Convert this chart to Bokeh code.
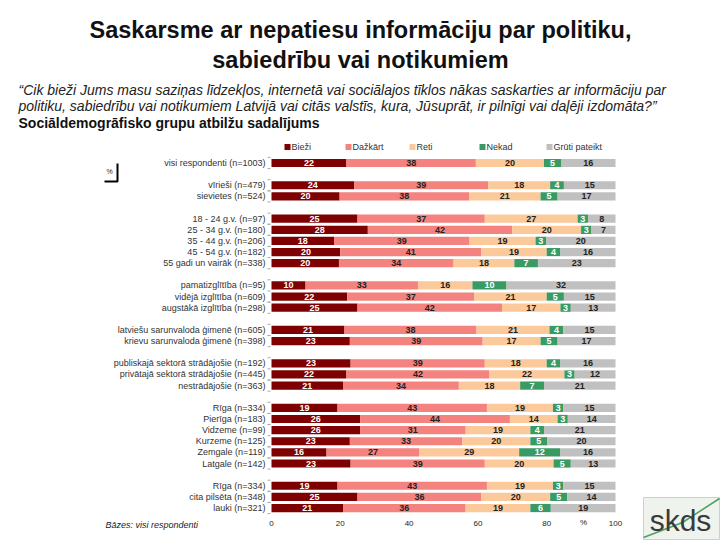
import numpy as np
from bokeh.plotting import figure
from bokeh.models import Range1d, ColumnDataSource
from bokeh.core.properties import value
from bokeh.embed import file_html
from bokeh.resources import INLINE

title_lines = ["Saskarsme ar nepatiesu informāciju par politiku,",
               "sabiedrību vai notikumiem"]
question_lines = ["“Cik bieži Jums masu saziņas līdzekļos, internetā vai sociālajos tīklos nākas saskarties ar informāciju par",
                  "politiku, sabiedrību vai notikumiem Latvijā vai citās valstīs, kura, Jūsuprāt, ir pilnīgi vai daļēji izdomāta?”"]
subtitle = "Sociāldemogrāfisko grupu atbilžu sadalījums"
base_note = "Bāzes: visi respondenti"

series_names = ["Bieži", "Dažkārt", "Reti", "Nekad", "Grūti pateikt"]
series_colors = ["#7f0000", "#f4827e", "#fbc99a", "#3a9a64", "#c0c0c0"]
label_colors = ["white", "#222222", "#222222", "white", "#222222"]

categories = [
    "visi respondenti (n=1003)",
    "vīrieši (n=479)", "sievietes (n=524)",
    "18 - 24 g.v. (n=97)", "25 - 34 g.v. (n=180)", "35 - 44 g.v. (n=206)",
    "45 - 54 g.v. (n=182)", "55 gadi un vairāk (n=338)",
    "pamatizglītība (n=95)", "vidējā izglītība (n=609)", "augstākā izglītība (n=298)",
    "latviešu sarunvaloda ģimenē (n=605)", "krievu sarunvaloda ģimenē (n=398)",
    "publiskajā sektorā strādājošie (n=192)", "privātajā sektorā strādājošie (n=445)",
    "nestrādājošie (n=363)",
    "Rīga (n=334)", "Pierīga (n=183)", "Vidzeme (n=99)", "Kurzeme (n=125)",
    "Zemgale (n=119)", "Latgale (n=142)",
    "Rīga (n=334)", "cita pilsēta (n=348)", "lauki (n=321)",
]
group_sizes = [1, 2, 5, 3, 2, 3, 6, 3]

biezi   = [22, 24, 20, 25, 28, 18, 20, 20, 10, 22, 25, 21, 23, 23, 22, 21, 19, 26, 26, 23, 16, 23, 19, 25, 21]
dazkart = [38, 39, 38, 37, 42, 39, 41, 34, 33, 37, 42, 38, 39, 39, 42, 34, 43, 44, 31, 33, 27, 39, 43, 36, 36]
reti    = [20, 18, 21, 27, 20, 19, 19, 18, 16, 21, 17, 21, 17, 18, 22, 18, 19, 14, 19, 20, 29, 20, 19, 20, 19]
nekad   = [5, 4, 5, 3, 3, 3, 4, 7, 10, 5, 3, 4, 5, 4, 3, 7, 3, 3, 4, 5, 12, 5, 3, 5, 6]
gruti   = [16, 15, 17, 8, 7, 20, 16, 23, 32, 15, 13, 15, 17, 16, 12, 21, 15, 14, 21, 20, 16, 13, 15, 14, 19]

x_ticks = [0, 20, 40, 60, 80, 100]

# ---- layout helpers (reference pixel space) ----
X0, PXU = 271.0, 3.44          # px of 0 % and px per %
def X(px):
    return (px - X0) / PXU

W, H = 720, 540
p = figure(width=W, height=H, output_backend="svg", toolbar_location=None,
           x_range=Range1d(X(0), X(W)), y_range=Range1d(H, 0),
           min_border=0, background_fill_color="white", border_fill_color="white")
p.axis.visible = False
p.grid.visible = False
p.outline_line_color = None

# row positions with gaps between groups
slots = []
s = 0
for g in group_sizes:
    for _ in range(g):
        slots.append(s)
        s += 1
    s += 1
row_y = 162.5 + 11.13 * np.array(slots)

vals = np.array([biezi, dazkart, reti, nekad, gruti], dtype=float)  # 5 x N
tot = vals.sum(axis=0)
widths = vals / tot * 100.0
rights = np.cumsum(widths, axis=0)
lefts = rights - widths

for i, name in enumerate(series_names):
    src = ColumnDataSource(dict(y=row_y, left=lefts[i], right=rights[i],
                                mid=(lefts[i] + rights[i]) / 2,
                                lab=[str(int(v)) for v in vals[i]]))
    p.hbar(y="y", left="left", right="right", height=8.2, source=src,
           fill_color=series_colors[i], line_color=None)
    p.text(x="mid", y="y", text="lab", source=src, text_align="center",
           text_baseline="middle", text_font=value("Liberation Sans"),
           text_font_size="9px", text_font_style="bold", text_color=label_colors[i])

# small ticks at left of bars at row boundaries
bnds = sorted(set(np.round(np.concatenate([row_y - 5.6, row_y + 5.6]), 1)))
p.segment(x0=[X(267)] * len(bnds), x1=[X(270)] * len(bnds), y0=bnds, y1=bnds,
          line_color="#aaaaaa", line_width=1)

# category labels
p.text(x=[X(265)] * len(categories), y=row_y, text=categories, text_align="right",
       text_baseline="middle", text_font=value("Liberation Sans"),
       text_font_size="9px", text_color="#333333")

# legend
leg_sq = [287, 348, 412, 482, 549]
p.scatter(x=[X(v) for v in leg_sq], y=[146.5] * 5, marker="square", size=6,
          fill_color=series_colors, line_color=None)
p.text(x=[X(v + 4) for v in leg_sq], y=[146.5] * 5, text=series_names,
       text_align="left", text_baseline="middle", text_font=value("Liberation Sans"),
       text_font_size="9px", text_color="#333333")

# x tick labels
p.text(x=x_ticks, y=[523] * len(x_ticks), text=[str(t) for t in x_ticks],
       text_align="center", text_baseline="middle", text_font=value("Liberation Sans"),
       text_font_size="8px", text_color="#222222")
p.text(x=[X(583)], y=[522], text=["%"], text_align="center", text_baseline="middle",
       text_font=value("Liberation Sans"), text_font_size="8px", text_color="#222222")

# base note
p.text(x=[X(105)], y=[524], text=[base_note], text_align="left", text_baseline="middle",
       text_font=value("Liberation Sans"), text_font_size="9px",
       text_font_style="italic", text_color="#222222")

# percent bracket at upper left
p.text(x=[X(109)], y=[171], text=["%"], text_align="center", text_baseline="middle",
       text_font=value("Liberation Sans"), text_font_size="7px", text_color="#222222")
p.line(x=[X(117), X(117), X(104)], y=[163, 181, 181], line_color="black", line_width=2)

# titles
p.text(x=[X(360), X(360)], y=[29, 59], text=title_lines, text_align="center",
       text_baseline="middle", text_font=value("Liberation Sans"),
       text_font_size="23.5px", text_font_style="bold", text_color="#111111")
p.text(x=[X(18), X(18)], y=[89, 105], text=question_lines, text_align="left",
       text_baseline="middle", text_font=value("Liberation Sans"),
       text_font_size="14px", text_font_style="italic", text_color="#222222")
p.text(x=[X(18)], y=[122], text=[subtitle], text_align="left", text_baseline="middle",
       text_font=value("Liberation Sans"), text_font_size="14px",
       text_font_style="bold", text_color="#111111")

# logo
p.quad(left=[X(643)], right=[X(719)], top=[497], bottom=[539],
       fill_color="#eef3ee", line_color="#c5d5c5", line_width=1)
p.line(x=[X(643), X(682), X(719)], y=[537, 522, 498], line_color="#4fa060", line_width=1.5)
p.text(x=[X(680)], y=[520], text=["skds"], text_align="center", text_baseline="middle",
       text_font=value("Liberation Sans"), text_font_size="30px", text_color="#3a3a3a")

open("out.html", "w").write(file_html(p, INLINE))
